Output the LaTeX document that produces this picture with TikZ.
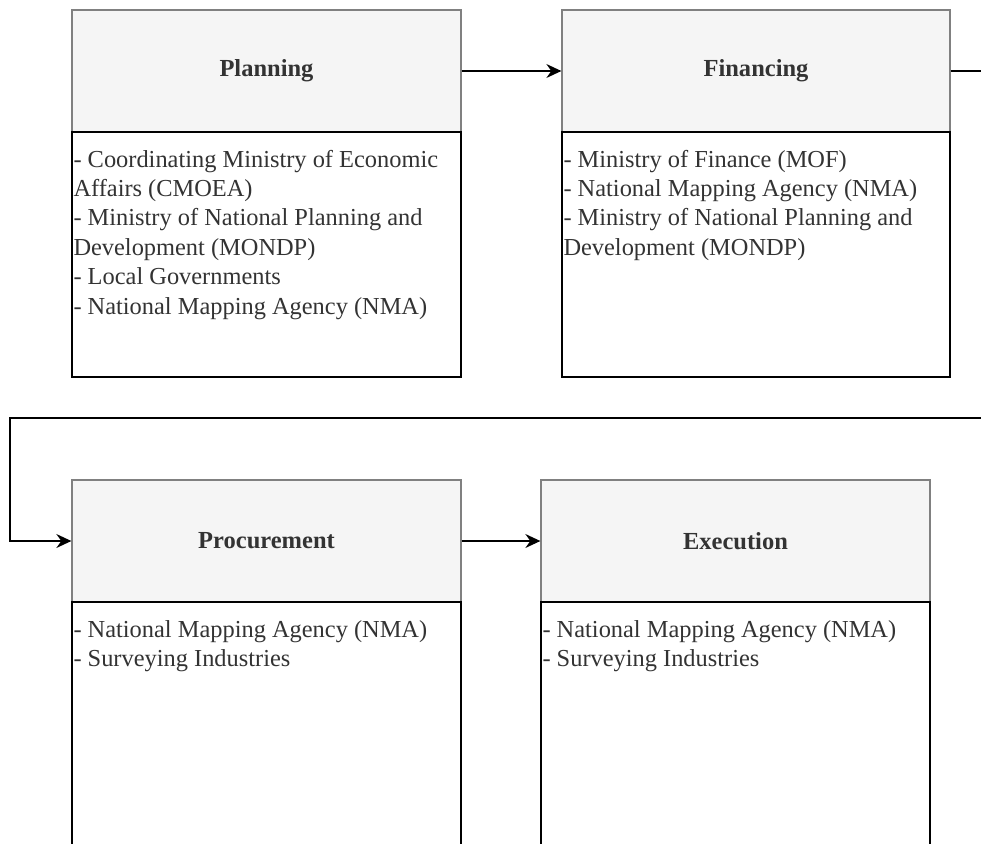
\documentclass[tikz,border=0pt]{standalone}
\usepackage{fontspec}
\setmainfont{Liberation Serif}
\usetikzlibrary{arrows.meta}
\definecolor{hdrfill}{HTML}{F5F5F5}
\definecolor{hdrline}{HTML}{808080}
\definecolor{txt}{HTML}{333333}
\tikzset{
  hdr/.style={draw=hdrline, fill=hdrfill, line width=1.3pt, minimum width=389pt, minimum height=122pt, inner sep=0pt, font=\fontsize{24.5}{29}\selectfont\bfseries, text=txt},
  bodybox/.style={draw=black, line width=1.4pt, minimum width=389pt, inner sep=0pt},
  bodytext/.style={anchor=north west, inner sep=0pt, align=left, font=\fontsize{24.4}{29.4}\selectfont, text=txt},
  flow/.style={draw=black, line width=1.4pt, -{Stealth[length=15pt,width=14pt,inset=5pt]}}
}
\begin{document}
\begin{tikzpicture}[x=1pt,y=-1pt]
\clip (0,0) rectangle (981,843);
\fill[white] (0,0) rectangle (981,843);
% Planning
\node[hdr] (planH) at (266.5,71) {Planning};
\node[bodybox, minimum height=245pt] (planB) at (266.5,254.5) {};
\node[bodytext] (planT) at ([xshift=2pt,yshift=-15pt]planB.north west) {\strut- Coordinating Ministry of Economic\\Affairs (CMOEA)\\- Ministry of National Planning and\\Development (MONDP)\\- Local Governments\\- National Mapping Agency (NMA)};
% Financing
\node[hdr, minimum width=388pt] (finH) at (756,71) {Financing};
\node[bodybox, minimum width=388pt, minimum height=245pt] (finB) at (756,254.5) {};
\node[bodytext] (finT) at ([xshift=2pt,yshift=-15pt]finB.north west) {\strut- Ministry of Finance (MOF)\\- National Mapping Agency (NMA)\\- Ministry of National Planning and\\Development (MONDP)};
% Procurement
\node[hdr] (procH) at (266.5,541) {Procurement};
\node[bodybox, minimum height=258pt] (procB) at (266.5,731) {};
\node[bodytext] (procT) at ([xshift=2pt,yshift=-15pt]procB.north west) {\strut- National Mapping Agency (NMA)\\- Surveying Industries};
% Execution
\node[hdr] (execH) at (735.5,541) {Execution};
\node[bodybox, minimum height=258pt] (execB) at (735.5,731) {};
\node[bodytext] (execT) at ([xshift=2pt,yshift=-15pt]execB.north west) {\strut- National Mapping Agency (NMA)\\- Surveying Industries};
% connectors
\coordinate (turnA) at (1000,71);
\coordinate (turnB) at (1000,418);
\coordinate (turnC) at (10,418);
\coordinate (turnD) at (10,541);
\draw[flow] (planH.east) -- (finH.west);
\draw[flow] (finH.east) -- (turnA) -- (turnB) -- (turnC) -- (turnD) -- (procH.west);
\draw[flow] (procH.east) -- (execH.west);
\end{tikzpicture}
\end{document}
